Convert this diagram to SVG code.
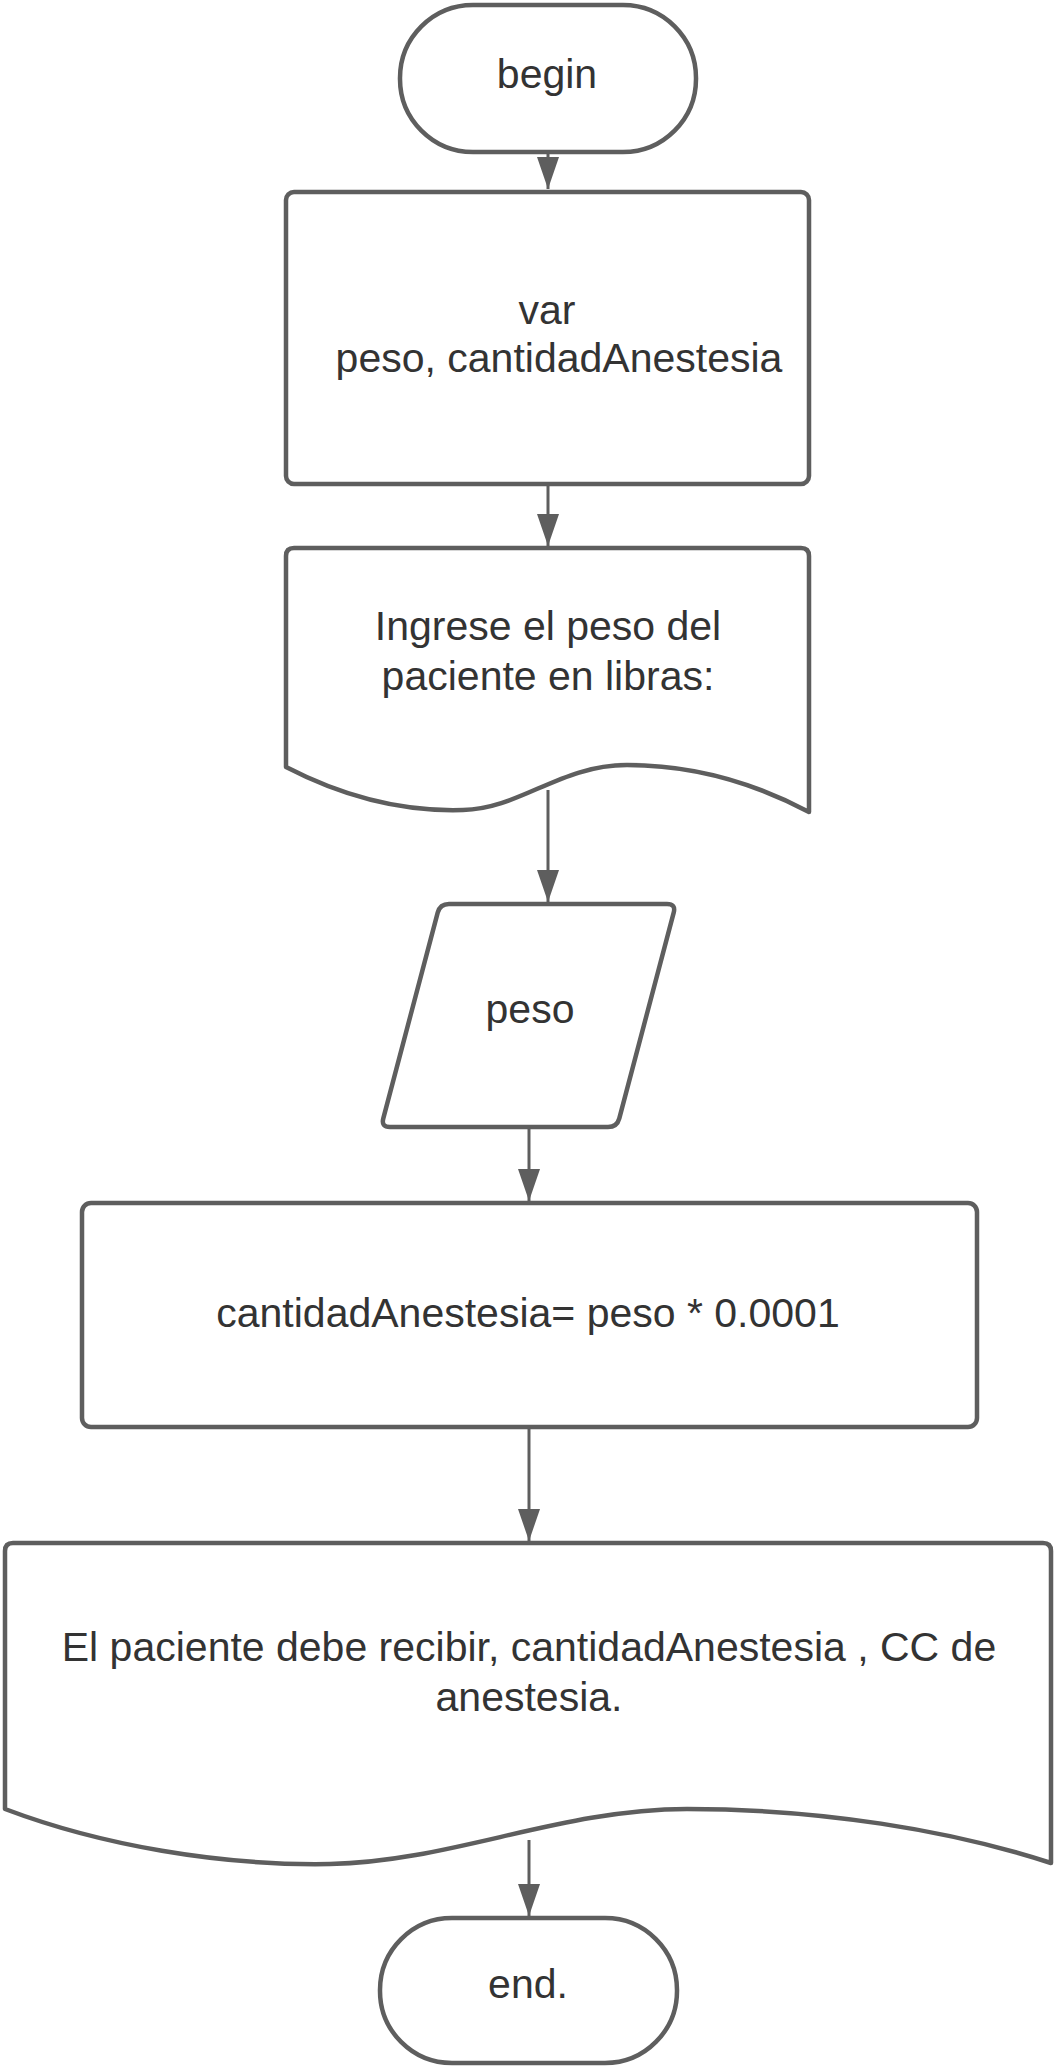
<svg xmlns="http://www.w3.org/2000/svg" width="1056" height="2068" viewBox="0 0 1056 2068">
<style>
.shape{fill:#ffffff;stroke:#5e5e5e;stroke-width:4.5;stroke-linejoin:round}
.lbl{font-family:"Liberation Sans",Arial,sans-serif;font-size:41px;fill:#333333;text-anchor:middle}
.conn{stroke:#5e5e5e;stroke-width:3;fill:none}
</style>
<defs>
<marker id="ah" viewBox="0 0 32 22" refX="32" refY="11" markerWidth="32" markerHeight="22" markerUnits="userSpaceOnUse" orient="auto">
<path d="M0,0 L32,11 L0,22 Z" fill="#5e5e5e"/>
</marker>
</defs>
<rect width="1056" height="2068" fill="#ffffff"/>
<g id="connectors">
<line class="conn" x1="548" y1="154" x2="548" y2="189" marker-end="url(#ah)"/>
<line class="conn" x1="548" y1="485" x2="548" y2="546" marker-end="url(#ah)"/>
<line class="conn" x1="548" y1="790" x2="548" y2="902" marker-end="url(#ah)"/>
<line class="conn" x1="529" y1="1128" x2="529" y2="1201" marker-end="url(#ah)"/>
<line class="conn" x1="529" y1="1428" x2="529" y2="1541" marker-end="url(#ah)"/>
<line class="conn" x1="529" y1="1840" x2="529" y2="1916" marker-end="url(#ah)"/>
</g>
<g id="begin">
<rect class="shape" x="400" y="5" width="296" height="147" rx="73" ry="73"/>
<text class="lbl" x="547" y="88">begin</text>
</g>
<g id="var">
<rect class="shape" x="286" y="192" width="523" height="292" rx="8" ry="8"/>
<text class="lbl" x="547" y="324">var</text>
<text class="lbl" x="559" y="372">peso, cantidadAnestesia</text>
</g>
<g id="prompt">
<path class="shape" d="M286,767 V556 Q286,548 294,548 H801 Q809,548 809,556 V812 C760,786 700,765 627,765 C560,765 520,809 463,810 C400,812 340,795 286,767 Z"/>
<text class="lbl" x="548" y="640">Ingrese el peso del</text>
<text class="lbl" x="548" y="690">paciente en libras:</text>
</g>
<g id="peso">
<path class="shape" d="M449,904 H667 Q676,904 673.7,912.7 L619.3,1118.3 Q617,1127 608,1127 H390 Q381,1127 383.3,1118.3 L437.7,912.7 Q440,904 449,904 Z"/>
<text class="lbl" x="530" y="1023">peso</text>
</g>
<g id="process">
<rect class="shape" x="82" y="1203" width="895" height="224" rx="9" ry="9"/>
<text class="lbl" x="528" y="1327">cantidadAnestesia= peso * 0.0001</text>
</g>
<g id="output">
<path class="shape" d="M5,1809 V1551 Q5,1543 13,1543 H1043 Q1051,1543 1051,1551 V1863 C950,1830 820,1809 687,1809 C560,1809 450,1862 330,1864 C220,1866 100,1845 5,1809 Z"/>
<text class="lbl" x="529" y="1661">El paciente debe recibir, cantidadAnestesia , CC de</text>
<text class="lbl" x="529" y="1711">anestesia.</text>
</g>
<g id="end">
<rect class="shape" x="380" y="1918" width="297" height="145" rx="72" ry="72"/>
<text class="lbl" x="528" y="1998">end.</text>
</g>
</svg>
